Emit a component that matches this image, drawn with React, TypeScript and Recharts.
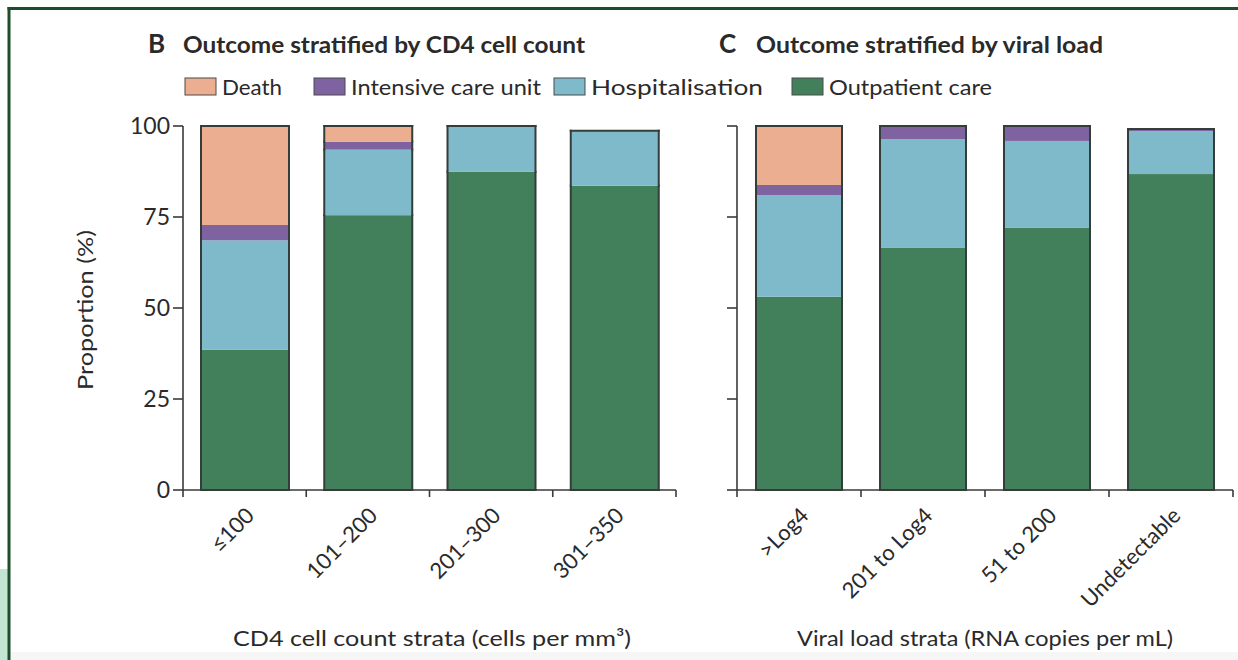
import React from 'react';
import { BarChart, Bar, XAxis, YAxis } from 'recharts';

// ---------- data ----------
const cd4Categories = ['≤100', '101–200', '201–300', '301–350'];
const cd4Outpatient = [38.5, 75.5, 87.4, 83.6];
const cd4Hospitalisation = [30.1, 18.0, 12.6, 15.1];
const cd4Icu = [4.2, 2.2, 0, 0];
const cd4Death = [27.2, 4.3, 0, 0];

const vlCategories = ['>Log4', '201 to Log4', '51 to 200', 'Undetectable'];
const vlOutpatient = [53.1, 66.5, 72.0, 86.8];
const vlHospitalisation = [27.9, 29.9, 23.9, 11.8];
const vlIcu = [2.8, 3.6, 4.1, 0.6];
const vlDeath = [16.2, 0, 0, 0];

const yTicks = [0, 25, 50, 75, 100];

const stackOrder = ['outpatient', 'hospitalisation', 'icu', 'death'];
const legendOrder = ['death', 'icu', 'hospitalisation', 'outpatient'];
const seriesNames: Record<string, string> = {
  death: 'Death',
  icu: 'Intensive care unit',
  hospitalisation: 'Hospitalisation',
  outpatient: 'Outpatient care',
};
const seriesColors: Record<string, string> = {
  death: '#EBAE90',
  icu: '#7E63A0',
  hospitalisation: '#7FBACB',
  outpatient: '#42805B',
};

const buildRows = (cats: string[], out: number[], hosp: number[], icu: number[], death: number[]) =>
  cats.map((c, i) => ({ category: c, outpatient: out[i], hospitalisation: hosp[i], icu: icu[i], death: death[i] }));

const cd4Rows = buildRows(cd4Categories, cd4Outpatient, cd4Hospitalisation, cd4Icu, cd4Death);
const vlRows = buildRows(vlCategories, vlOutpatient, vlHospitalisation, vlIcu, vlDeath);

// ---------- styles ----------
const FONT = 'Lato, "Open Sans", sans-serif';
const TEXT = '#2a2a2a';
const AXIS = '#3a3a3a';
const OUTLINE = '#333d39';

const makeShape = (key: string) => (props: any) => {
  const { x, y, width, height, payload, fill } = props;
  if (!height || height <= 0) return <g />;
  const idx = stackOrder.indexOf(key);
  const isBottom = idx === 0;
  const isTop = stackOrder.slice(idx + 1).every((k) => !payload || !payload[k]);
  const ls = { stroke: OUTLINE, strokeWidth: 2, strokeLinecap: 'square' as const };
  return (
    <g>
      <rect x={x} y={y} width={width} height={height} fill={fill} />
      <line x1={x} y1={y} x2={x} y2={y + height} {...ls} />
      <line x1={x + width} y1={y} x2={x + width} y2={y + height} {...ls} />
      {isBottom && <line x1={x} y1={y + height} x2={x + width} y2={y + height} {...ls} />}
      {isTop && <line x1={x} y1={y} x2={x + width} y2={y} {...ls} />}
    </g>
  );
};

const makeCatTick = (categories: string[]) => (props: any) => {
  const { x, y, payload, width } = props;
  const half = payload && payload.offset ? payload.offset : width / (2 * categories.length);
  const isLast = payload.value === categories[categories.length - 1];
  const ax = x + 11;
  const ay = y + 27;
  const ts = { stroke: AXIS, strokeWidth: 1.6 };
  return (
    <g>
      <line x1={x - half} y1={y} x2={x - half} y2={y + 7} {...ts} />
      {isLast && <line x1={x + half} y1={y} x2={x + half} y2={y + 7} {...ts} />}
      <text x={ax} y={ay} textAnchor="end" transform={`rotate(-45 ${ax} ${ay})`} fontSize={22} fill={TEXT} fontFamily={FONT}>
        {payload.value}
      </text>
    </g>
  );
};

const EmptyTick = () => <g />;

const renderChart = (rows: any[], categories: string[], width: number, marginLeft: number, marginRight: number, barSize: number, showYLabels: boolean) => (
  <BarChart
    width={width}
    height={660}
    data={rows}
    margin={{ top: 126, right: marginRight, bottom: 140, left: marginLeft }}
    barSize={barSize}
  >
    <XAxis
      dataKey="category"
      height={30}
      axisLine={{ stroke: AXIS, strokeWidth: 1.6 }}
      tickLine={false}
      tickSize={0}
      tickMargin={0}
      interval={0}
      tick={makeCatTick(categories)}
    />
    <YAxis
      domain={[0, 100]}
      ticks={yTicks}
      width={60}
      interval={0}
      axisLine={{ stroke: AXIS, strokeWidth: 1.6 }}
      tickLine={{ stroke: AXIS, strokeWidth: 1.6 }}
      tickSize={10}
      tickMargin={3}
      tick={showYLabels ? { fontSize: 23, fill: TEXT, fontFamily: FONT } : EmptyTick}
    />
    {stackOrder.map((k) => (
      <Bar
        key={k}
        dataKey={k}
        name={seriesNames[k]}
        stackId="s"
        fill={seriesColors[k]}
        shape={makeShape(k)}
        isAnimationActive={false}
      />
    ))}
  </BarChart>
);

const legendX: Record<string, number> = { death: 185, icu: 314, hospitalisation: 554, outpatient: 792 };
const legendLen: Record<string, number> = { death: 60, icu: 190, hospitalisation: 172, outpatient: 163 };

export default function App() {
  return (
    <div style={{ position: 'absolute', left: 0, top: 0, width: 1238, height: 660, background: '#fff', overflow: 'hidden', fontFamily: FONT }}>
      <svg width={1238} height={660} style={{ position: 'absolute', left: 0, top: 0 }}>
        <rect x={0} y={569} width={8} height={91} fill="#C4E5D1" />
        <rect x={10} y={652} width={1228} height={8} fill="#f6f6f6" />
        <line x1={7.5} y1={8.5} x2={1238} y2={8.5} stroke="#1F4E2C" strokeWidth={3} />
        <line x1={9} y1={7} x2={9} y2={660} stroke="#1F4E2C" strokeWidth={3} />

        <text x={148} y={53} fontSize={26} fontWeight={700} fill={TEXT} fontFamily={FONT}>B</text>
        <text x={183} y={53} fontSize={23} fontWeight={700} fill={TEXT} fontFamily={FONT} textLength={402} lengthAdjust="spacingAndGlyphs">
          Outcome stratified by CD4 cell count
        </text>
        <text x={719} y={53} fontSize={26} fontWeight={700} fill={TEXT} fontFamily={FONT}>C</text>
        <text x={756} y={53} fontSize={23} fontWeight={700} fill={TEXT} fontFamily={FONT} textLength={347} lengthAdjust="spacingAndGlyphs">
          Outcome stratified by viral load
        </text>

        {legendOrder.map((k) => (
          <g key={k}>
            <rect x={legendX[k]} y={78} width={31} height={17} fill={seriesColors[k]} stroke="#4a4a4a" strokeWidth={1} />
            <text x={legendX[k] + 37} y={95} fontSize={22} fill={TEXT} fontFamily={FONT} textLength={legendLen[k]} lengthAdjust="spacingAndGlyphs">
              {seriesNames[k]}
            </text>
          </g>
        ))}

        <text x={93} y={310} fontSize={22} fill={TEXT} fontFamily={FONT} textAnchor="middle" transform="rotate(-90 93 310)" textLength={160} lengthAdjust="spacingAndGlyphs">
          Proportion (%)
        </text>
        <text x={432} y={646} fontSize={22} fill={TEXT} fontFamily={FONT} textAnchor="middle" textLength={398} lengthAdjust="spacingAndGlyphs">
          CD4 cell count strata (cells per mm³)
        </text>
        <text x={985} y={646} fontSize={22} fill={TEXT} fontFamily={FONT} textAnchor="middle" textLength={376} lengthAdjust="spacingAndGlyphs">
          Viral load strata (RNA copies per mL)
        </text>
      </svg>

      <div style={{ position: 'absolute', left: 0, top: 0 }}>
        {renderChart(cd4Rows, cd4Categories, 700, 123, 24, 88, true)}
      </div>
      <div style={{ position: 'absolute', left: 620, top: 0 }}>
        {renderChart(vlRows, vlCategories, 618, 57, 5, 86, false)}
      </div>
    </div>
  );
}
